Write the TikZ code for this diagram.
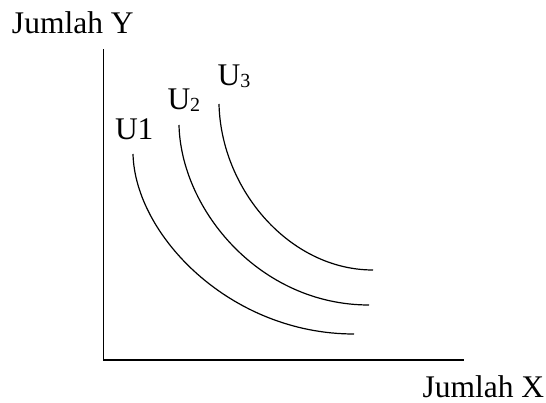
\documentclass[tikz,border=0pt]{standalone}
\usepackage{fontspec}
\setmainfont{Liberation Serif}
\newcommand\usub[1]{\raisebox{-2pt}{\fontsize{20}{20}\selectfont #1}}
\begin{document}
\begin{tikzpicture}[x=1pt,y=-1pt,
  lbl/.style={anchor=base west,inner sep=0pt,outer sep=0pt,font=\fontsize{31.5}{31.5}\selectfont},
  axis/.style={line width=1.2pt,line cap=rect},
  curve/.style={line width=1.2pt}]
\useasboundingbox (0,0) rectangle (546,403);
% axes
\coordinate (O) at (103.5,360);
\coordinate (ytop) at (103.5,50);
\coordinate (xend) at (463,360);
\draw[axis] (ytop) -- (O) -- (xend);
% axis labels
\node[lbl] (ylab) at (12,34) {Jumlah Y};
\node[lbl] (xlab) at (422.5,397) {Jumlah X};
% curve labels
\node[lbl] (l1) at (115,140) {U1};
\node[lbl] (l2) at (167.5,110) {U\usub{2}};
\node[lbl] (l3) at (217.5,85.5) {U\usub{3}};
% indifference curves
\coordinate (a1) at (133,154);
\coordinate (b1) at (354,334);
\coordinate (a2) at (179,125);
\coordinate (b2) at (369,305);
\coordinate (a3) at (219,104);
\coordinate (b3) at (373,270);
\draw[curve] (a1) .. controls (135,235) and (230,334) .. (b1);
\draw[curve] (a2) .. controls (181,210) and (260,305) .. (b2);
\draw[curve] (a3) .. controls (221,190) and (290,270) .. (b3);
\end{tikzpicture}
\end{document}
